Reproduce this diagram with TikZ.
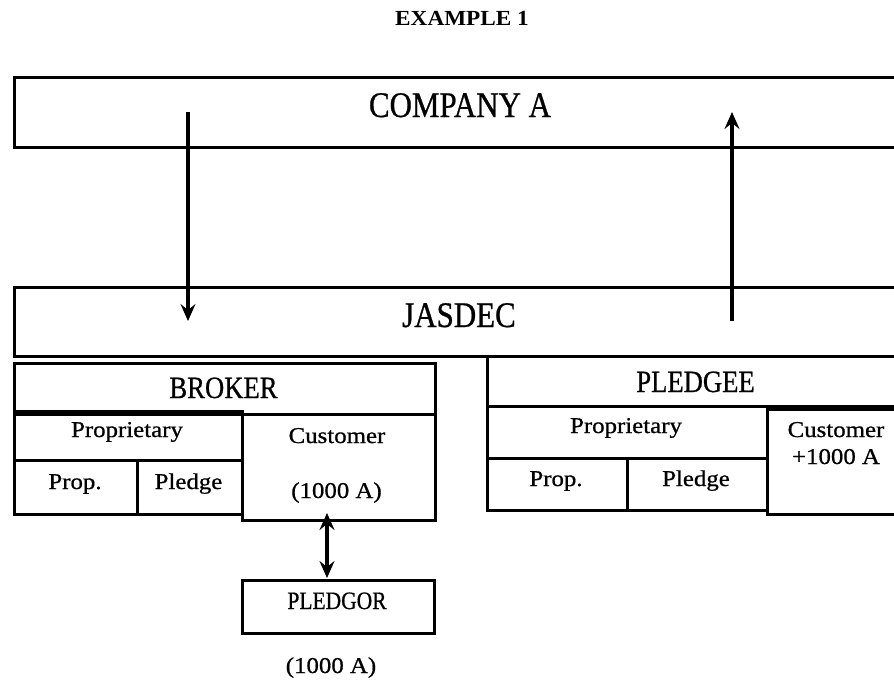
\documentclass[tikz,border=0pt]{standalone}
\usepackage{fontspec}
\setmainfont{Liberation Serif}
\newfontfamily\capsf[FakeStretch=0.86,FakeBold=0.7]{Liberation Serif}
\newfontfamily\lowf[FakeStretch=1.1,FakeBold=0.7]{Liberation Serif}
\newfontfamily\titlef[FakeStretch=1.08]{Liberation Serif}
\usetikzlibrary{arrows.meta}
\tikzset{
  box/.style={draw, line width=2.8pt, inner sep=0pt, anchor=north west},
  lbl/.style={inner sep=0pt, anchor=base},
  big/.style={lbl, font=\capsf\fontsize{36}{40}\selectfont},
  mid/.style={lbl, font=\capsf\fontsize{31}{35}\selectfont},
  small/.style={lbl, font=\lowf\fontsize{22.6}{26}\selectfont},
  caps24/.style={lbl, font=\capsf\fontsize{25}{28}\selectfont},
  tip/.tip={Stealth[length=17pt,width=15pt,inset=6pt]},
  arr/.style={line width=3.2pt, -tip},
  darr/.style={line width=3.2pt, tip-tip}
}
\begin{document}
\begin{tikzpicture}[x=1pt,y=-1pt]
\useasboundingbox (0,0) rectangle (894,681);
\clip (0,0) rectangle (894,681);
% title
\node[lbl, font=\titlef\bfseries\fontsize{21.5}{24}\selectfont] (title) at (462,25) {EXAMPLE 1};
% top boxes
\node[box, minimum width=900pt, minimum height=70pt] (compA) at (13,76) {};
\node[box, minimum width=900pt, minimum height=69pt] (jasdec) at (13,286) {};
\node[big] (tcompA) at (460,117) {COMPANY A};
\node[big] (tjasdec) at (459,327) {JASDEC};
% arrows company <-> jasdec
\coordinate (d1) at (188,112);
\coordinate (d2) at (188,321);
\coordinate (u1) at (732,321);
\coordinate (u2) at (732,112);
\draw[arr] (d1) -- (d2);
\draw[arr] (u1) -- (u2);
% BROKER
\node[box, minimum width=421pt, minimum height=51pt] (broker) at (13,362) {};
\node[box, minimum width=228pt, minimum height=49pt] (bprop) at (13,410) {};
\node[box, minimum width=123pt, minimum height=54pt] (bpp) at (13,459) {};
\node[box, minimum width=105pt, minimum height=54pt] (bpl) at (136,459) {};
\node[box, minimum width=193pt, minimum height=106pt] (bcust) at (241,413) {};
\node[mid] (tbroker) at (223.5,398) {BROKER};
\node[small] (tbprop) at (127,437) {Proprietary};
\node[small] (tbpp) at (75,489) {Prop.};
\node[small] (tbpl) at (188.5,489) {Pledge};
\node[small] (tbcust) at (337,443) {Customer};
\node[small] (tbamt) at (336.5,498) {(1000 A)};
% PLEDGEE
\node[box, minimum width=420pt, minimum height=50pt] (pledgee) at (486,355) {};
\node[box, minimum width=280pt, minimum height=52pt] (pprop) at (486,405) {};
\node[box, minimum width=140pt, minimum height=52pt] (ppp) at (486,457) {};
\node[box, minimum width=140pt, minimum height=52pt] (ppl) at (626,457) {};
\node[box, minimum width=140pt, minimum height=105pt] (pcust) at (766,408) {};
\node[mid] (tpledgee) at (695.5,392) {PLEDGEE};
\node[small] (tpprop) at (626,433) {Proprietary};
\node[small] (tppp) at (556,486) {Prop.};
\node[small] (tppl) at (696,486) {Pledge};
\node[small] (tpcust) at (836,437) {Customer};
\node[small] (tpamt) at (836,464) {+1000 A};
% PLEDGOR
\node[box, minimum width=192pt, minimum height=53pt] (pledgor) at (241,579) {};
\node[caps24] (tpledgor) at (337,609) {PLEDGOR};
\node[small] (tpgamt) at (331,673) {(1000 A)};
\coordinate (v1) at (327,513);
\coordinate (v2) at (327,578);
\draw[darr] (v1) -- (v2);
\end{tikzpicture}
\end{document}
